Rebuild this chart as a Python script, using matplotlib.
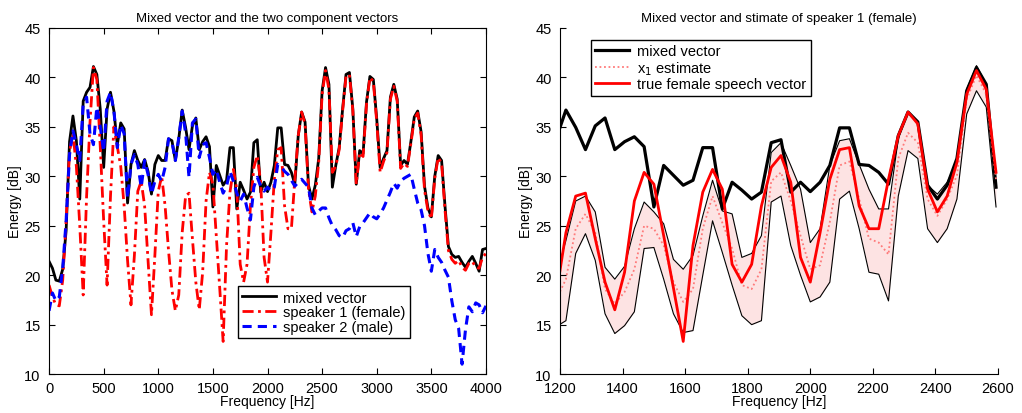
import numpy as np
import matplotlib
matplotlib.use("Agg")
import matplotlib.pyplot as plt

plt.rcParams['font.family'] = ['Liberation Sans', 'DejaVu Sans']

# frequency bins (31.25 Hz spacing, 0..4000 Hz)
freq = np.arange(129) * 31.25

mixed = [21.4, 20.7, 19.5, 19.4, 20.6, 24.5, 33.5, 36.1, 33.6, 27.7,
         37.6, 38.5, 39.0, 41.1, 40.3, 36.8, 30.9, 36.8, 38.5, 36.6,
         33.2, 35.4, 34.8, 27.3, 31.2, 32.6, 31.6, 30.9, 31.7, 30.5,
         28.2, 31.2, 32.1, 31.6, 31.6, 33.8, 33.6, 31.6, 33.8, 36.7,
         34.95, 32.7, 35.1, 35.9, 32.7, 33.5, 34.0, 33.0, 26.9, 31.1,
         30.1, 29.1, 29.6, 32.9, 32.9, 26.7, 29.4, 28.6, 27.7, 28.4,
         33.4, 33.7, 28.4, 29.4, 28.45, 29.4, 31.1, 34.9, 34.9, 31.2,
         31.1, 30.4, 29.2, 34.1, 36.5, 35.5, 29.1, 27.7, 29.1, 31.8,
         38.65, 41.0, 39.3, 28.9, 31.1, 32.9, 36.8, 40.3, 40.5, 36.8,
         29.2, 32.6, 32.3, 37.5, 40.1, 39.8, 35.8, 30.9, 31.8, 32.6,
         38.0, 39.3, 37.8, 31.1, 31.6, 31.2, 33.5, 36.0, 36.6, 34.5,
         29.0, 26.8, 25.9, 30.0, 32.1, 31.6, 27.0, 22.9, 22.1, 21.8,
         21.9, 21.3, 20.8, 21.4, 21.9, 21.2, 20.4, 22.6, 22.7]

speaker1 = [19.0, 17.8, 17.0, 16.9, 19.5, 25.5, 32.5, 34.3, 31.0, 25.0,
            18.0, 28.0, 35.5, 41.0, 39.8, 33.0, 25.5, 19.0, 28.0, 35.0,
            33.0, 31.0, 27.0, 21.5, 17.0, 22.0, 28.5, 29.5, 27.0, 21.5,
            16.0, 22.0, 28.5, 30.0, 27.0, 22.5, 18.5, 16.4, 18.0, 24.3,
            28.0, 28.3, 23.7, 19.3, 16.5, 20.3, 27.5, 30.4, 29.2, 24.0,
            18.7, 13.3, 23.0, 28.4, 30.7, 28.7, 21.1, 19.3, 21.1, 27.0,
            30.9, 32.1, 29.4, 21.8, 19.3, 24.3, 29.7, 32.7, 32.9, 27.0,
            24.7, 24.7, 29.7, 34.1, 36.5, 35.3, 28.7, 26.4, 28.0, 31.4,
            38.3, 40.7, 38.8, 30.4, 31.0, 32.7, 36.6, 40.1, 40.3, 36.6,
            29.2, 32.4, 32.0, 37.3, 40.0, 39.6, 35.5, 30.4, 31.5, 32.4,
            37.8, 39.1, 37.6, 30.8, 31.3, 31.0, 33.3, 35.8, 36.4, 34.2,
            28.6, 26.5, 25.7, 29.8, 31.9, 31.3, 26.6, 22.5, 21.6, 21.2,
            21.5, 20.8, 20.5, 21.2, 21.4, 20.8, 20.7, 21.8, 22.2]

speaker2 = [16.4, 18.2, 17.4, 17.8, 20.7, 25.5, 32.2, 34.6, 33.2, 31.6,
            37.3, 38.0, 34.3, 33.2, 37.0, 35.0, 32.5, 37.6, 38.5, 36.6,
            32.9, 35.2, 34.3, 27.8, 31.2, 32.2, 31.2, 28.9, 31.6, 30.2,
            28.2, 29.5, 30.2, 29.5, 30.9, 33.8, 33.5, 31.6, 33.9, 36.6,
            34.4, 29.9, 35.4, 35.8, 31.9, 33.2, 33.4, 31.9, 30.2, 30.7,
            29.4, 28.3, 29.0, 30.5, 29.5, 28.3, 27.5, 28.2, 26.8, 25.6,
            28.9, 29.9, 29.0, 28.5, 28.9, 28.5, 28.9, 31.2, 31.0, 30.5,
            30.2, 29.6, 29.0, 29.4, 29.7, 29.3, 28.9, 26.8, 26.1, 26.5,
            26.8, 26.8, 25.8, 25.0, 24.6, 24.0, 23.8, 24.5, 24.7, 25.3,
            23.9, 24.9, 25.3, 25.8, 26.3, 25.9, 25.7, 26.2, 26.8, 27.6,
            28.4, 29.3, 28.8, 29.5, 29.8, 30.0, 30.2, 28.7, 27.3, 26.6,
            25.0, 22.2, 20.4, 22.6, 21.8, 21.3, 20.5, 19.8, 17.4, 15.5,
            14.6, 11.0, 14.5, 16.8, 16.3, 17.2, 17.0, 16.2, 16.9]

# right panel: bins 38..83
r0, r1 = 38, 84
upper = [20.0, 23.5, 27.5, 28.0, 26.4, 20.8, 19.6, 20.9, 24.7, 27.4,
         26.4, 25.2, 21.6, 20.6, 22.0, 26.0, 29.6, 26.5, 26.2, 21.8,
         22.2, 24.0, 32.4, 33.4, 31.1, 28.7, 23.3, 24.7, 31.1, 33.6,
         33.8, 31.2, 28.7, 26.7, 26.7, 33.8, 36.5, 35.5, 29.1, 28.2,
         29.4, 31.4, 38.8, 41.2, 39.3, 28.9]
lower = [14.8, 15.4, 22.2, 24.2, 21.5, 16.1, 14.1, 14.9, 16.3, 22.7,
         22.8, 19.6, 16.1, 14.2, 14.4, 20.0, 25.5, 22.3, 19.0, 15.9,
         15.0, 15.4, 27.4, 28.0, 23.0, 20.0, 17.3, 17.8, 19.3, 27.7,
         28.5, 24.7, 20.3, 20.1, 17.4, 28.0, 32.6, 31.8, 24.7, 23.3,
         24.7, 27.7, 36.3, 38.65, 37.0, 26.9]
estimate = [17.5, 19.6, 24.7, 26.2, 24.3, 18.6, 17.1, 18.3, 20.6, 25.0,
            24.7, 23.0, 19.3, 17.3, 18.6, 24.7, 28.0, 25.3, 22.7, 19.0,
            18.6, 20.6, 29.5, 30.4, 27.5, 24.0, 20.6, 21.0, 25.4, 31.1,
            31.5, 27.7, 23.7, 23.3, 22.1, 31.8, 34.4, 33.4, 27.7, 26.0,
            27.7, 30.1, 37.8, 40.2, 38.3, 29.7]

fig = plt.figure(figsize=(10.22, 4.14), dpi=100)
ax1 = fig.add_axes([0.048, 0.094, 0.4275, 0.836])
ax2 = fig.add_axes([0.548, 0.094, 0.4285, 0.836])

# ---- left panel ----
ax1.plot(freq, mixed, color='black', lw=2.0, label='mixed vector')
ax1.plot(freq, speaker1, color='red', lw=2.0, linestyle=(0, (4, 1.6, 1, 1.6)),
         label='speaker 1 (female)')
ax1.plot(freq, speaker2, color='blue', lw=2.2, linestyle=(0, (3, 2)),
         label='speaker 2 (male)')
ax1.set_xlim(0, 4000)
ax1.set_ylim(10, 45)
ax1.set_xticks(np.arange(0, 4001, 500))
ax1.set_yticks(np.arange(10, 46, 5))
ax1.tick_params(direction='in', top=True, right=True, labelsize=10.5, length=4)
ax1.tick_params(axis='x', pad=5)
ax1.tick_params(axis='y', pad=6)
ax1.set_xlabel('Frequency [Hz]', fontsize=10, labelpad=-1)
ax1.set_ylabel('Energy [dB]', fontsize=10, labelpad=2)
ax1.set_title('Mixed vector and the two component vectors', fontsize=9.5, pad=5)
leg1 = ax1.legend(loc='upper left', bbox_to_anchor=(0.432, 0.254),
                  fontsize=10.5, frameon=True, fancybox=False,
                  framealpha=1, edgecolor='black', handlelength=2.3,
                  handletextpad=0.5, borderaxespad=0, labelspacing=0.05,
                  borderpad=0.3)
leg1.get_frame().set_linewidth(1.0)

# ---- right panel ----
fr = freq[r0:r1]
ax2.fill_between(fr, lower, upper, color='#fde3e3', lw=0)
ax2.plot(fr, upper, color='black', lw=0.8)
ax2.plot(fr, lower, color='black', lw=0.8)
ax2.plot(fr, mixed[r0:r1], color='black', lw=2.3, label='mixed vector')
ax2.plot(fr, estimate, color='#ff7a7a', lw=1.3, linestyle=(0, (1, 1.5)),
         label='x$_1$ estimate')
ax2.plot(fr, speaker1[r0:r1], color='red', lw=2.0, label='true female speech vector')
ax2.set_xlim(1200, 2600)
ax2.set_ylim(10, 45)
ax2.set_xticks(np.arange(1200, 2601, 200))
ax2.set_yticks(np.arange(10, 46, 5))
ax2.spines['top'].set_visible(False)
ax2.spines['right'].set_visible(False)
ax2.tick_params(direction='in', labelsize=10.5, length=4)
ax2.tick_params(axis='x', pad=5)
ax2.tick_params(axis='y', pad=6)
ax2.set_xlabel('Frequency [Hz]', fontsize=10, labelpad=-1)
ax2.set_ylabel('Energy [dB]', fontsize=10, labelpad=2)
ax2.set_title('Mixed vector and stimate of speaker 1 (female)', fontsize=9.5, pad=5)
leg2 = ax2.legend(loc='upper left', bbox_to_anchor=(0.07, 0.966),
                  fontsize=10.5, frameon=True, fancybox=False,
                  framealpha=1, edgecolor='black', handlelength=2.3,
                  handletextpad=0.6, borderaxespad=0, labelspacing=0.05,
                  borderpad=0.3)
leg2.get_frame().set_linewidth(1.0)

fig.savefig('out.png', dpi=100)
